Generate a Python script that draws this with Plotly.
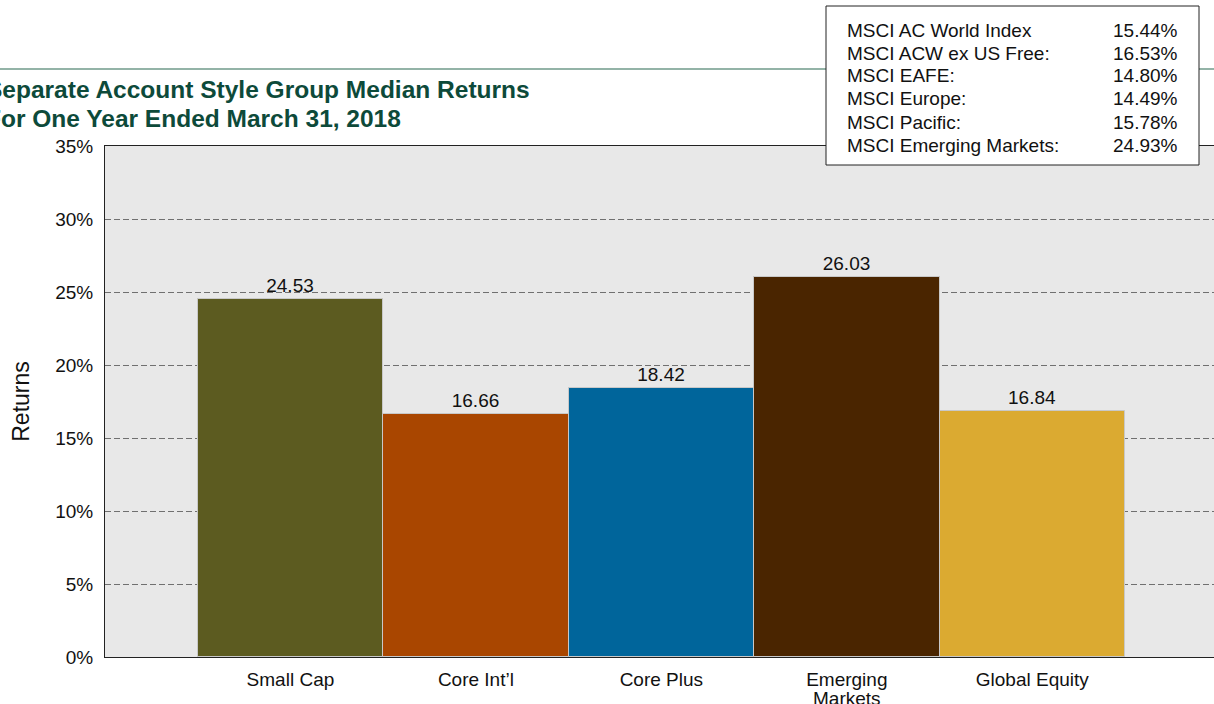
import plotly.graph_objects as go

categories = ["Small Cap", "Core Int\u2019l", "Core Plus", "Emerging Markets", "Global Equity"]
tick_labels = ["Small Cap", "Core Int\u2019l", "Core Plus", "Emerging", "Global Equity"]
returns = [24.53, 16.66, 18.42, 26.03, 16.84]
bar_colors = ["#5c5b20", "#a94600", "#00659b", "#4a2500", "#dbaa31"]

index_names = ["MSCI AC World Index", "MSCI ACW ex US Free:", "MSCI EAFE:",
               "MSCI Europe:", "MSCI Pacific:", "MSCI Emerging Markets:"]
index_returns = ["15.44%", "16.53%", "14.80%", "14.49%", "15.78%", "24.93%"]

W, H = 1214, 704
ML, MR, MT, MB = 105, 0, 146, 47
PW, PH = W - ML - MR, H - MT - MB


def px_x(x):
    return (x - ML) / PW


def px_y(y):
    return (H - MB - y) / PH


FONT = "Liberation Sans, Arial, sans-serif"
TXT = "#111111"

fig = go.Figure()
fig.add_trace(go.Bar(
    x=list(range(len(categories))),
    y=returns,
    marker=dict(color=bar_colors, line=dict(color="#c8c8c8", width=1)),
    text=[f"{v:.2f}" for v in returns],
    textposition="outside",
    textfont=dict(size=19, color=TXT, family=FONT),
    cliponaxis=False,
    width=1,
))

# second line of the "Emerging Markets" label (tight line spacing as in the source)
fig.add_annotation(xref="x", yref="paper", x=3, y=px_y(698),
                   xanchor="center", yanchor="middle", showarrow=False,
                   text="Markets", font=dict(size=19, color=TXT, family=FONT))

# header rule
fig.add_shape(type="line", xref="paper", yref="paper",
              x0=px_x(0), x1=px_x(W), y0=px_y(69), y1=px_y(69),
              line=dict(color="#6f9a8a", width=1.5), layer="below")

# title
fig.add_annotation(xref="paper", yref="paper", x=px_x(-16), y=px_y(89),
                   xanchor="left", yanchor="middle", showarrow=False,
                   text="<b>Separate Account Style Group Median Returns</b>",
                   font=dict(size=24.5, color="#0d4a3a", family=FONT))
fig.add_annotation(xref="paper", yref="paper", x=px_x(-16), y=px_y(118),
                   xanchor="left", yanchor="middle", showarrow=False,
                   text="<b>For One Year Ended March 31, 2018</b>",
                   font=dict(size=24.5, color="#0d4a3a", family=FONT))

# index box
fig.add_shape(type="rect", xref="paper", yref="paper",
              x0=px_x(826), x1=px_x(1199), y0=px_y(165), y1=px_y(6),
              fillcolor="white", line=dict(color="#222222", width=1), layer="above")
for i, (name, val) in enumerate(zip(index_names, index_returns)):
    yc = px_y(30 + i * 23)
    fig.add_annotation(xref="paper", yref="paper", x=px_x(845), y=yc,
                       xanchor="left", yanchor="middle", showarrow=False,
                       text=name, font=dict(size=19, color=TXT, family=FONT))
    fig.add_annotation(xref="paper", yref="paper", x=px_x(1180), y=yc,
                       xanchor="right", yanchor="middle", showarrow=False,
                       text=val, font=dict(size=19, color=TXT, family=FONT))

fig.update_layout(
    width=W, height=H,
    margin=dict(l=ML, r=MR, t=MT, b=MB, pad=0),
    paper_bgcolor="white",
    plot_bgcolor="#e8e8e8",
    showlegend=False,
    bargap=0,
    font=dict(family=FONT, color=TXT),
)
fig.update_xaxes(
    range=[-1, 4.98],
    tickvals=list(range(len(categories))),
    ticktext=tick_labels,
    tickfont=dict(size=19, family=FONT, color=TXT),
    showgrid=False, zeroline=False,
    showline=True, linecolor="#222222", linewidth=1, mirror=True,
    ticks="", ticklen=0, ticklabelstandoff=5,
)
fig.update_yaxes(
    range=[0, 35],
    dtick=5,
    ticksuffix="%",
    tickfont=dict(size=19, family=FONT, color=TXT),
    showgrid=True, gridcolor="#707070", griddash="6px,3px", gridwidth=1,
    zeroline=False,
    showline=True, linecolor="#222222", linewidth=1, mirror=True,
    ticks="", ticklabelstandoff=7,
    title=dict(text="Returns", font=dict(size=23, family=FONT, color=TXT), standoff=19),
)

fig.write_html(
    "out.html",
    config={"displayModeBar": False},
    post_script=(
        "document.body.style.margin='0';"
        "document.body.style.overflow='hidden';"
        "document.documentElement.style.overflow='hidden';"
    ),
)
